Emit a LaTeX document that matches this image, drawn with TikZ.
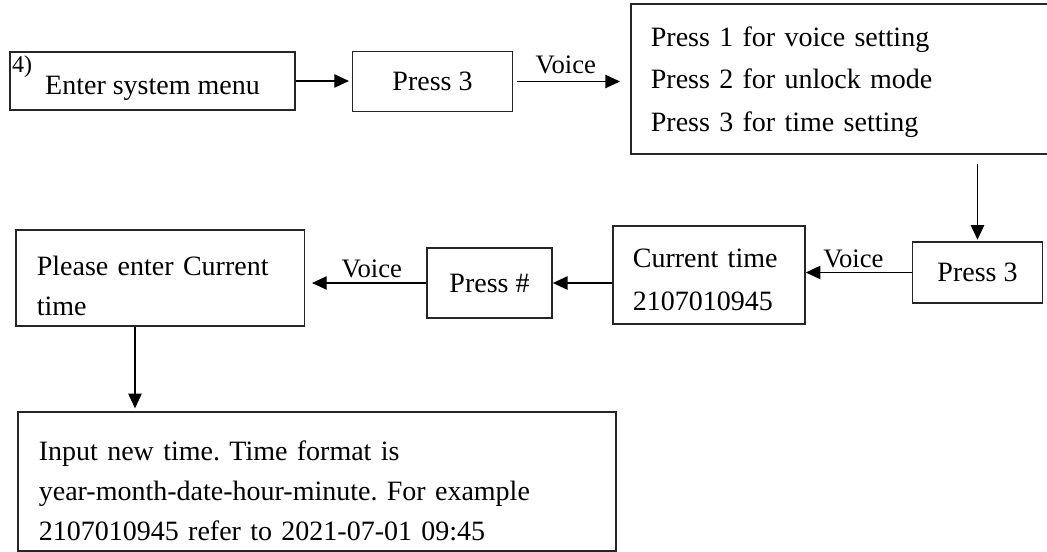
\documentclass[tikz,border=0pt]{standalone}
\usepackage{fontspec}
\setmainfont{Liberation Serif}
\usetikzlibrary{arrows.meta}
\frenchspacing

\tikzset{
  box/.style={draw=black!85, line width=1.3pt, inner sep=0pt, font=\fontsize{21pt}{32pt}\selectfont},
  txtbox/.style={box, anchor=north west, align=left, inner xsep=15pt},
  arr/.style={line width=1pt, -{Triangle[length=11pt,width=10pt]}},
  voice/.style={above, inner sep=3pt, font=\fontsize{20pt}{22pt}\selectfont}
}

\begin{document}
\begin{tikzpicture}[x=0.75pt,y=0.75pt,yscale=-1]
\useasboundingbox (0,0) rectangle (1047,552);

% top row
\node [box, minimum width=213.75pt, minimum height=43.5pt, text height=20pt, text depth=0pt] (sysmenu) at (152.5,81) {Enter system menu};
\node [anchor=north west, inner xsep=2pt, inner ysep=3pt, font=\fontsize{18pt}{20pt}\selectfont] (step) at (sysmenu.north west) {4)};
\node [box, minimum width=120pt, minimum height=45pt] (pressa) at (432.5,81.5) {Press 3};
\node [txtbox, text width=286.5pt, minimum height=112.5pt, text depth=64pt] (menu) at (630,3)
  {Press 1 for voice setting\\Press 2 for unlock mode\\Press 3 for time setting};

% middle row
\node [box, minimum width=97.5pt, minimum height=45.75pt] (pressb) at (977.5,272.5) {Press 3};
\node [txtbox, text width=114pt, minimum height=73.5pt, text depth=24.5pt] (curtime) at (612,225) {Current time\\2107010945};
\node [box, minimum width=93.75pt, minimum height=52.5pt] (pressh) at (489.5,283) {Press \#};
\node [txtbox, font=\fontsize{21pt}{30pt}\selectfont, inner xsep=15.75pt, text width=185pt, minimum height=72pt, text depth=18pt] (enter) at (15,229) {Please enter Current\\time};

% bottom
\node [txtbox, font=\fontsize{21pt}{30pt}\selectfont, inner xsep=15.75pt, text width=417pt, minimum height=104.25pt, text depth=46pt] (newtime) at (17,411)
  {Input new time. Time format is\\year-month-date-hour-minute. For example\\2107010945 refer to 2021-07-01 09:45};
\coordinate (dropx) at (135,0);

% arrows
\draw [arr, shorten >=2pt] (sysmenu.east) -- (sysmenu.east -| pressa.west);
\draw [arr, shorten <=3pt, shorten >=7.5pt] (pressa.east) -- (pressa.east -| menu.west) node [voice, inner sep=5pt, pos=0.45] {Voice};
\draw [arr, shorten <=7pt, shorten >=1pt] (menu.south -| pressb.north) -- (pressb.north);
\draw [arr] (pressb.west) -- (pressb.west -| curtime.east) node [voice, pos=0.55] {Voice};
\draw [arr] (curtime.west |- pressh.east) -- (pressh.east);
\draw [arr, shorten >=5pt] (pressh.west) -- (pressh.west -| enter.east) node [voice, pos=0.45] {Voice};
\draw [arr, shorten >=2pt] (enter.south -| dropx) -- (newtime.north -| dropx);

\end{tikzpicture}
\end{document}
